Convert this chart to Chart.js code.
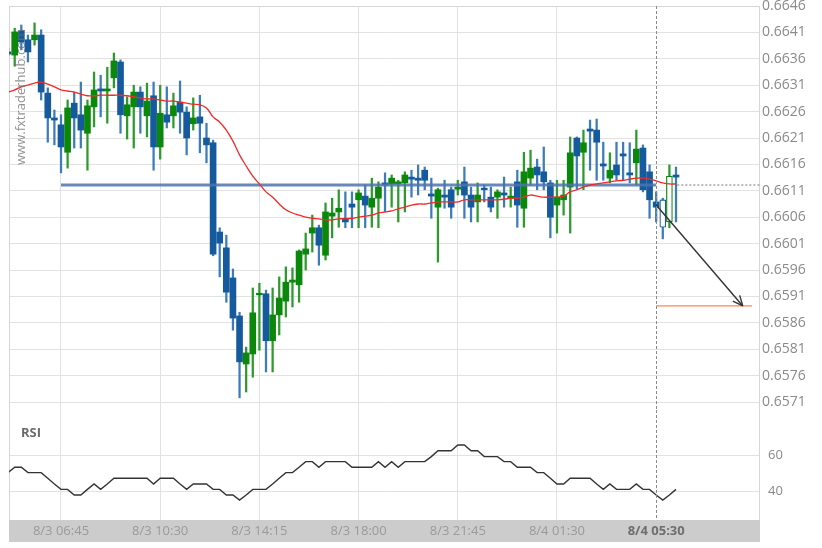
<!DOCTYPE html>
<html><head><meta charset="utf-8">
<script src="https://cdn.jsdelivr.net/npm/chart.js@4.4.0/dist/chart.umd.min.js"></script>
<style>
html,body{margin:0;padding:0;background:#fff;}
#wrap{position:relative;width:822px;height:548px;overflow:hidden;background:#fff;}
#price{position:absolute;left:0;top:0;}
#rsi{position:absolute;left:0;top:410px;}
</style></head><body>
<div id="wrap"><canvas id="price" width="822" height="410"></canvas><canvas id="rsi" width="822" height="138"></canvas></div>
<script>
// ---- DATA (15-minute candles, index 0 = 8/3 04:45) ----
const opens = [
0.66373,0.66367,0.66413,0.66396,0.66396,0.66405,0.66295,0.66248,0.66235,0.66183,
0.66276,0.66254,0.66219,0.66269,0.66303,0.66299,0.66324,0.66354,0.66252,0.66269,
0.66297,0.66252,0.66290,0.66193,0.66254,0.66252,0.66278,0.66259,0.66237,0.66250,
0.66210,0.66201,0.66032,0.66002,0.65945,0.65873,0.65782,0.65801,0.65913,0.65915,
0.65826,0.65875,0.65901,0.65937,0.65932,0.65990,0.66030,0.66040,0.65988,0.66062,
0.66070,0.66058,0.66085,0.66093,0.66100,0.66079,0.66096,0.66125,0.66123,0.66123,
0.66125,0.66136,0.66134,0.66149,0.66104,0.66079,0.66102,0.66112,0.66113,0.66127,
0.66102,0.66089,0.66115,0.66098,0.66098,0.66106,0.66096,0.66127,0.66077,0.66134,
0.66155,0.66146,0.66125,0.66083,0.66093,0.66117,0.66210,0.66183,0.66227,0.66225,
0.66161,0.66134,0.66159,0.66180,0.66144,0.66163,0.66191,0.66146,0.66089,0.66093,
0.66051,0.66140];
const highs = [
0.66380,0.66418,0.66424,0.66405,0.66428,0.66415,0.66305,0.66263,0.66254,0.66282,
0.66297,0.66316,0.66282,0.66335,0.66329,0.66344,0.66371,0.66358,0.66288,0.66310,
0.66307,0.66314,0.66316,0.66310,0.66307,0.66295,0.66318,0.66269,0.66286,0.66291,
0.66238,0.66206,0.66040,0.66026,0.65962,0.65880,0.65814,0.65926,0.65935,0.65922,
0.65926,0.65947,0.65966,0.65964,0.65998,0.66030,0.66064,0.66045,0.66087,0.66096,
0.66112,0.66108,0.66108,0.66112,0.66121,0.66134,0.66127,0.66144,0.66140,0.66130,
0.66146,0.66149,0.66159,0.66155,0.66134,0.66115,0.66130,0.66117,0.66130,0.66155,
0.66117,0.66125,0.66121,0.66117,0.66112,0.66136,0.66117,0.66149,0.66183,0.66187,
0.66170,0.66193,0.66130,0.66130,0.66130,0.66212,0.66212,0.66225,0.66244,0.66246,
0.66202,0.66182,0.66202,0.66202,0.66201,0.66225,0.66197,0.66159,0.66108,0.66096,
0.66159,0.66155];
const lows = [
0.66365,0.66346,0.66377,0.66354,0.66386,0.66282,0.66202,0.66197,0.66144,0.66153,
0.66191,0.66191,0.66149,0.66231,0.66250,0.66238,0.66305,0.66219,0.66208,0.66191,
0.66219,0.66212,0.66149,0.66170,0.66229,0.66229,0.66219,0.66178,0.66225,0.66182,
0.66163,0.65987,0.65947,0.65899,0.65846,0.65718,0.65729,0.65757,0.65808,0.65767,
0.65767,0.65837,0.65871,0.65890,0.65899,0.65960,0.65994,0.65969,0.65979,0.66021,
0.66041,0.66040,0.66040,0.66040,0.66040,0.66041,0.66040,0.66070,0.66079,0.66051,
0.66070,0.66098,0.66102,0.66112,0.66058,0.65975,0.66077,0.66058,0.66102,0.66058,
0.66051,0.66051,0.66089,0.66070,0.66058,0.66079,0.66079,0.66041,0.66041,0.66121,
0.66112,0.66112,0.66021,0.66030,0.66064,0.66030,0.66112,0.66112,0.66149,0.66130,
0.66130,0.66125,0.66130,0.66130,0.66125,0.66121,0.66108,0.66058,0.66051,0.66019,
0.66040,0.66051];
const closes = [
0.66369,0.66411,0.66392,0.66373,0.66405,0.66297,0.66248,0.66244,0.66193,0.66267,
0.66248,0.66225,0.66271,0.66301,0.66299,0.66303,0.66356,0.66254,0.66273,0.66297,
0.66269,0.66280,0.66193,0.66257,0.66240,0.66271,0.66259,0.66210,0.66248,0.66238,
0.66197,0.65990,0.66011,0.65918,0.65869,0.65786,0.65803,0.65879,0.65916,0.65826,
0.65875,0.65907,0.65937,0.65941,0.65996,0.66000,0.66040,0.66007,0.66070,0.66068,
0.66077,0.66051,0.66079,0.66106,0.66083,0.66096,0.66117,0.66121,0.66134,0.66127,
0.66140,0.66132,0.66130,0.66130,0.66100,0.66112,0.66098,0.66079,0.66117,0.66102,
0.66079,0.66102,0.66112,0.66079,0.66108,0.66102,0.66100,0.66083,0.66146,0.66153,
0.66140,0.66127,0.66060,0.66098,0.66102,0.66182,0.66176,0.66201,0.66223,0.66202,
0.66157,0.66149,0.66140,0.66176,0.66140,0.66189,0.66112,0.66093,0.66079,0.66041,
0.66138,0.66136];
const movingAverage = [
0.66297,0.66301,0.66307,0.66310,0.66314,0.66316,0.66312,0.66307,0.66301,0.66299,
0.66297,0.66293,0.66290,0.66290,0.66291,0.66291,0.66291,0.66291,0.66290,0.66288,
0.66286,0.66284,0.66284,0.66282,0.66280,0.66280,0.66278,0.66276,0.66274,0.66273,
0.66267,0.66250,0.66240,0.66225,0.66204,0.66178,0.66157,0.66138,0.66123,0.66108,
0.66098,0.66085,0.66074,0.66068,0.66064,0.66060,0.66058,0.66057,0.66055,0.66055,
0.66057,0.66057,0.66058,0.66060,0.66062,0.66064,0.66068,0.66070,0.66072,0.66076,
0.66079,0.66083,0.66085,0.66085,0.66087,0.66089,0.66089,0.66089,0.66089,0.66093,
0.66093,0.66093,0.66093,0.66093,0.66093,0.66094,0.66096,0.66096,0.66098,0.66102,
0.66100,0.66098,0.66098,0.66098,0.66100,0.66108,0.66112,0.66117,0.66121,0.66123,
0.66125,0.66127,0.66129,0.66130,0.66132,0.66134,0.66134,0.66132,0.66129,0.66125,
0.66123,0.66123];
const rsiValues = [
50.2,53.2,53.2,50.2,50.2,50.2,47.1,43.9,40.9,40.9,
37.8,37.8,40.9,43.9,40.9,43.9,47.1,47.1,47.1,47.1,
47.1,47.1,43.9,47.1,47.1,47.1,43.9,40.9,43.9,43.9,
43.9,40.9,40.9,37.8,37.8,35.0,37.8,40.9,40.9,40.9,
43.9,47.1,50.2,50.2,53.2,56.3,56.3,53.2,56.3,56.3,
56.3,56.3,53.2,53.2,53.2,53.2,56.3,53.2,56.3,53.2,
56.3,56.3,56.3,56.3,59.1,62.4,62.4,62.4,65.6,65.6,
62.4,62.4,59.1,59.1,59.1,56.3,56.3,53.2,53.2,53.2,
50.2,50.2,47.1,43.9,43.9,47.1,47.1,47.1,47.1,43.9,
40.9,43.9,40.9,40.9,40.9,43.9,40.9,40.9,37.8,35.0,
37.8,40.9];
const hollowCandles = [99, 100];
const xTickIndex = [8, 23, 38, 53, 68, 83, 98];
const xTickLabels = ["8/3 06:45","8/3 10:30","8/3 14:15","8/3 18:00","8/3 21:45","8/4 01:30","8/4 05:30"];
const priceTicks = [0.6571,0.6576,0.6581,0.6586,0.6591,0.6596,0.6601,0.6606,0.6611,0.6616,0.6621,0.6626,0.6631,0.6636,0.6641,0.6646];
const rsiTicks = [40, 60];
const signalIndex = 98;
const supportLevel = 0.66121, supportFrom = 8;
const targetLevel = 0.65892, targetTo = 112.5;
const arrowStart = [98, 0.66083], arrowEnd = [111.1, 0.65892];
const currentPrice = 0.66121, currentFrom = 101.2;

// ---- STYLE ----
const FONT = '"Open Sans", sans-serif';
Chart.defaults.font.family = FONT;
const X_MIN = 0.137, X_MAX = 113.7;
const GRID = '#e2e2e2', FRAME = '#d6d6d6';
const BLUE = '#155a9c', GREEN = '#0b870b', BLUE_W = '#3c7cbb', GREEN_W = '#2c9a2c';

const isUp = i => closes[i] >= opens[i];
const bodyBg = opens.map((o, i) => hollowCandles.includes(i) ? '#ffffff' : (isUp(i) ? GREEN : BLUE));
const bodyBorder = opens.map((o, i) => isUp(i) ? GREEN : BLUE);
const bodyBW = opens.map((o, i) => hollowCandles.includes(i) ? 1.2 : 0);
const wickColor = opens.map((o, i) => isUp(i) ? GREEN_W : BLUE_W);

function fixY(s){ s.width = 62; s.paddingTop = 0; s.paddingBottom = 0; }
function setTicks(arr){ return s => { s.ticks = arr.map(v => ({value: v})); }; }

const vLinePlugin = {
  id: 'vline',
  afterDatasetsDraw(chart) {
    const {ctx, chartArea} = chart;
    const x = Math.round(chart.scales.x.getPixelForValue(signalIndex)) + 0.5;
    ctx.save();
    ctx.strokeStyle = '#8a8a8a'; ctx.lineWidth = 1; ctx.setLineDash([3, 2]);
    ctx.beginPath(); ctx.moveTo(x, chartArea.top); ctx.lineTo(x, chartArea.bottom); ctx.stroke();
    ctx.restore();
  }
};

const priceDecor = {
  id: 'priceDecor',
  beforeDatasetsDraw(chart) {
    const {ctx, chartArea: a} = chart;
    ctx.save();
    ctx.strokeStyle = FRAME; ctx.lineWidth = 1;
    ctx.beginPath();
    ctx.moveTo(a.left + 0.5, a.bottom); ctx.lineTo(a.left + 0.5, a.top + 0.5);
    ctx.lineTo(a.right - 0.5, a.top + 0.5); ctx.lineTo(a.right - 0.5, a.bottom);
    ctx.stroke();
    ctx.restore();
  },
  afterDatasetsDraw(chart) {
    const {ctx} = chart;
    // watermark
    ctx.save();
    ctx.translate(21, 97); ctx.rotate(-Math.PI / 2);
    ctx.font = '13px ' + FONT; ctx.fillStyle = 'rgba(110,110,110,0.75)';
    ctx.textAlign = 'center'; ctx.textBaseline = 'middle';
    ctx.fillText('www.fxtraderhub.com', 0, 0);
    ctx.restore();
    // arrow head
    const meta = chart.getDatasetMeta(chart.data.datasets.findIndex(d => d.label === 'arrow'));
    const a = meta.data[0], b = meta.data[1];
    const ang = Math.atan2(b.y - a.y, b.x - a.x);
    ctx.save();
    ctx.strokeStyle = '#333'; ctx.lineWidth = 1.4;
    ctx.beginPath();
    for (const s of [-1, 1]) {
      ctx.moveTo(b.x, b.y);
      ctx.lineTo(b.x - 11 * Math.cos(ang + s * 0.42), b.y - 11 * Math.sin(ang + s * 0.42));
    }
    ctx.stroke();
    ctx.restore();
  }
};

new Chart(document.getElementById('price'), {
  type: 'bar',
  data: {
    datasets: [
      { label: 'wick', data: lows.map((l, i) => ({x: i, y: [l, highs[i]]})),
        backgroundColor: wickColor, barThickness: 1.6, grouped: false, order: 3 },
      { label: 'body', data: opens.map((o, i) => ({x: i, y: [o, closes[i]]})),
        backgroundColor: bodyBg, borderColor: bodyBorder, borderWidth: bodyBW, borderSkipped: false,
        barThickness: 6, minBarLength: 1.6, grouped: false, order: 2 },
      { type: 'line', label: 'support', data: [{x: supportFrom, y: supportLevel}, {x: signalIndex, y: supportLevel}],
        borderColor: 'rgba(78,115,175,0.85)', borderWidth: 3, pointRadius: 0, order: 1 },
      { type: 'line', label: 'ma', data: movingAverage.map((v, i) => ({x: i, y: v})),
        borderColor: '#f22a2a', borderWidth: 1.3, pointRadius: 0, tension: 0.4, order: 0 },
      { type: 'line', label: 'current', data: [{x: currentFrom, y: currentPrice}, {x: X_MAX, y: currentPrice}],
        borderColor: '#777', borderWidth: 1, borderDash: [2, 2], pointRadius: 0, order: 0 },
      { type: 'line', label: 'target', data: [{x: signalIndex, y: targetLevel}, {x: targetTo, y: targetLevel}],
        borderColor: '#ff8550', borderWidth: 1.4, pointRadius: 0, order: 0 },
      { type: 'line', label: 'arrow', data: [{x: arrowStart[0], y: arrowStart[1]}, {x: arrowEnd[0], y: arrowEnd[1]}],
        borderColor: '#333', borderWidth: 1.4, pointRadius: 0, order: 0 }
    ]
  },
  options: {
    responsive: false, animation: false, devicePixelRatio: 1,
    layout: {padding: {top: 6, left: 9, right: 0, bottom: 0}},
    plugins: {legend: {display: false}, tooltip: {enabled: false}},
    scales: {
      x: { type: 'linear', min: X_MIN, max: X_MAX, offset: false,
        afterBuildTicks: setTicks(xTickIndex.slice(0, 6)),
        afterFit: s => { s.height = 0; s.paddingLeft = 0; s.paddingRight = 0; },
        grid: {color: GRID, drawTicks: false, offset: false}, border: {display: false},
        ticks: {display: false} },
      y: { type: 'linear', position: 'right', min: 0.656949, max: 0.6646,
        afterBuildTicks: setTicks(priceTicks), afterFit: fixY,
        grid: {color: GRID, drawTicks: false}, border: {display: false},
        ticks: {padding: 2, color: '#8a8a8a', font: {size: 14}, callback: v => v.toFixed(4)} }
    }
  },
  plugins: [priceDecor, vLinePlugin]
});

const rsiDecor = {
  id: 'rsiDecor',
  beforeDraw(chart) {
    const {ctx, chartArea: a} = chart;
    ctx.save();
    ctx.fillStyle = '#cccccc';
    ctx.fillRect(a.left, a.bottom, a.right - a.left, 22);
    ctx.restore();
  },
  beforeDatasetsDraw(chart) {
    const {ctx, chartArea: a} = chart;
    ctx.save();
    ctx.strokeStyle = FRAME; ctx.lineWidth = 1;
    ctx.beginPath();
    ctx.moveTo(a.left + 0.5, a.top); ctx.lineTo(a.left + 0.5, a.bottom);
    ctx.moveTo(a.right - 0.5, a.top); ctx.lineTo(a.right - 0.5, a.bottom);
    ctx.stroke();
    ctx.font = 'bold 13px ' + FONT; ctx.fillStyle = '#6a6a6a';
    ctx.textAlign = 'left'; ctx.textBaseline = 'middle';
    ctx.fillText('RSI', 21, 23);
    ctx.restore();
  }
};

new Chart(document.getElementById('rsi'), {
  type: 'line',
  data: {
    datasets: [
      { label: 'RSI', data: rsiValues.map((v, i) => ({x: i, y: v})),
        borderColor: '#333333', borderWidth: 1.4, pointRadius: 0, tension: 0 }
    ]
  },
  options: {
    responsive: false, animation: false, devicePixelRatio: 1,
    layout: {padding: {top: 0, left: 9, right: 0, bottom: 6}},
    plugins: {legend: {display: false}, tooltip: {enabled: false}},
    scales: {
      x: { type: 'linear', min: X_MIN, max: X_MAX, offset: false,
        afterBuildTicks: setTicks(xTickIndex),
        afterFit: s => { s.height = 22; s.paddingLeft = 0; s.paddingRight = 0; },
        grid: {color: c => (c.tick && c.tick.value === signalIndex) ? 'rgba(0,0,0,0)' : GRID, drawTicks: false, offset: false},
        border: {display: false},
        ticks: { autoSkip: false, maxRotation: 0, padding: 3,
          color: c => (c.tick && c.tick.value === signalIndex) ? '#6e6e6e' : '#9a9a9a',
          font: c => (c.tick && c.tick.value === signalIndex) ? {size: 13, weight: 'bold'} : {size: 13},
          callback: (v, i) => xTickLabels[i] } },
      y: { type: 'linear', position: 'right', min: 23.9, max: 85,
        afterBuildTicks: setTicks(rsiTicks), afterFit: fixY,
        grid: {color: GRID, drawTicks: false}, border: {display: false},
        ticks: {padding: 8, color: '#8a8a8a', font: {size: 13}} }
    }
  },
  plugins: [rsiDecor, vLinePlugin]
});
</script>
</body></html>
